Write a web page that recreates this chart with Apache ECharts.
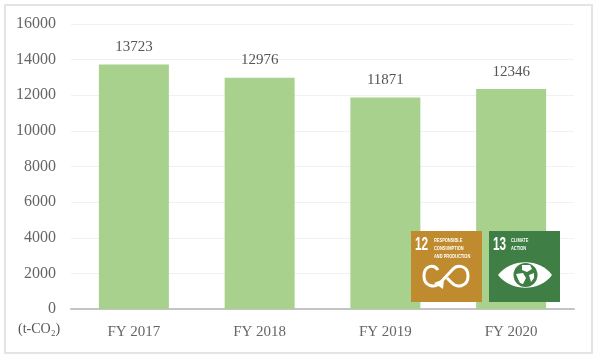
<!DOCTYPE html>
<html><head><meta charset="utf-8">
<style>html,body{margin:0;padding:0;background:#fff}#c{width:600px;height:356px}</style>
<script src="https://cdn.jsdelivr.net/npm/echarts@6/dist/echarts.min.js"></script>
</head><body><div id="c"></div>
<script>
const categories = ['FY 2017','FY 2018','FY 2019','FY 2020'];
const emissions = [13723,12976,11871,12346];
const yTicks = {min:0,max:16000,interval:2000};
const unitLabel = '(t-CO₂)';
const FONT = '"Liberation Serif",serif';
const SANS = '"Liberation Sans",sans-serif';
const G = echarts.graphic;
G.registerShape('sdgInfinity', G.extendPath('M438 270 C434 264 424 265 424 276 C424 287 435 288 440 283 L452 270 C457 264 468 265 468 276 C468 287 457 288 452 283 L447 278'));
G.registerShape('sdgArrow', G.extendPath('M434 283 L444 279 L443 289 Z'));
G.registerShape('sdgEye', G.extendPath('M498 275 C511 258 540 258 552 275 C540 292 511 292 498 275 Z'));
G.registerShape('sdgLand', G.extendPath('M522 265 L530 265 L532 269 L527 272 L522 270 Z M516 274 L523 273 L526 278 L523 284 L520 283 L518 279 Z M529 275 L534 273 L534 278 L531 282 Z'));
const badges = [
  {type:'rect',shape:{x:411,y:231,width:71,height:71},style:{fill:'#bf8b2e'}},
  {type:'text',x:415,y:235,scaleX:0.62,style:{text:'12',fill:'#fff',font:'bold 19px '+SANS}},
  {type:'text',x:434,y:236,scaleX:0.72,style:{text:'RESPONSIBLE\nCONSUMPTION\nAND PRODUCTION',fill:'#fff',lineHeight:8.3,font:'bold 5.5px '+SANS}},
  {type:'sdgInfinity',shape:{},style:{fill:'none',stroke:'#fff',lineWidth:3}},
  {type:'sdgArrow',shape:{},style:{fill:'#fff'}},
  {type:'rect',shape:{x:489,y:231,width:71,height:71},style:{fill:'#3f7e44'}},
  {type:'text',x:493,y:235,scaleX:0.62,style:{text:'13',fill:'#fff',font:'bold 19px '+SANS}},
  {type:'text',x:511,y:236,scaleX:0.72,style:{text:'CLIMATE\nACTION',fill:'#fff',lineHeight:8.3,font:'bold 5.5px '+SANS}},
  {type:'sdgEye',shape:{},style:{fill:'#fff'}},
  {type:'circle',shape:{cx:525.5,cy:275,r:12},style:{fill:'#3f7e44'}},
  {type:'sdgLand',shape:{},style:{fill:'#fff'}}
].map((e,i)=>Object.assign(e,{z:50,z2:i}));
const chart = echarts.init(document.getElementById('c'),null,{renderer:'canvas'});
chart.setOption({
  animation:false,
  backgroundColor:'#fff',
  grid:{left:71,right:26,top:24,bottom:47},
  xAxis:{type:'category',data:categories,
    axisLine:{lineStyle:{color:'#c4c4c4',width:2}},axisTick:{show:false},
    axisLabel:{color:'#666',fontFamily:FONT,fontSize:15,margin:16}},
  yAxis:{type:'value',min:yTicks.min,max:yTicks.max,interval:yTicks.interval,
    axisLine:{show:false},axisTick:{show:false},
    splitLine:{lineStyle:{color:'#f1f1f1',width:1}},
    axisLabel:{color:'#666',fontFamily:FONT,fontSize:16,margin:15,padding:[2,0,0,0],formatter:v=>String(v)}},
  series:[{type:'bar',data:emissions,barWidth:70,
    itemStyle:{color:'#a9d18e'},
    label:{show:true,position:'top',distance:10,color:'#555',fontFamily:FONT,fontSize:15}}],
  graphic:[
    {type:'rect',z:-1,shape:{x:5,y:5,width:587,height:348},style:{fill:'#fff',stroke:'#e4e4e4',lineWidth:2}},
    {type:'text',x:18,y:322,style:{text:unitLabel,fill:'#555',font:'14px '+FONT}},
    ...badges
  ]
});
</script></body></html>
